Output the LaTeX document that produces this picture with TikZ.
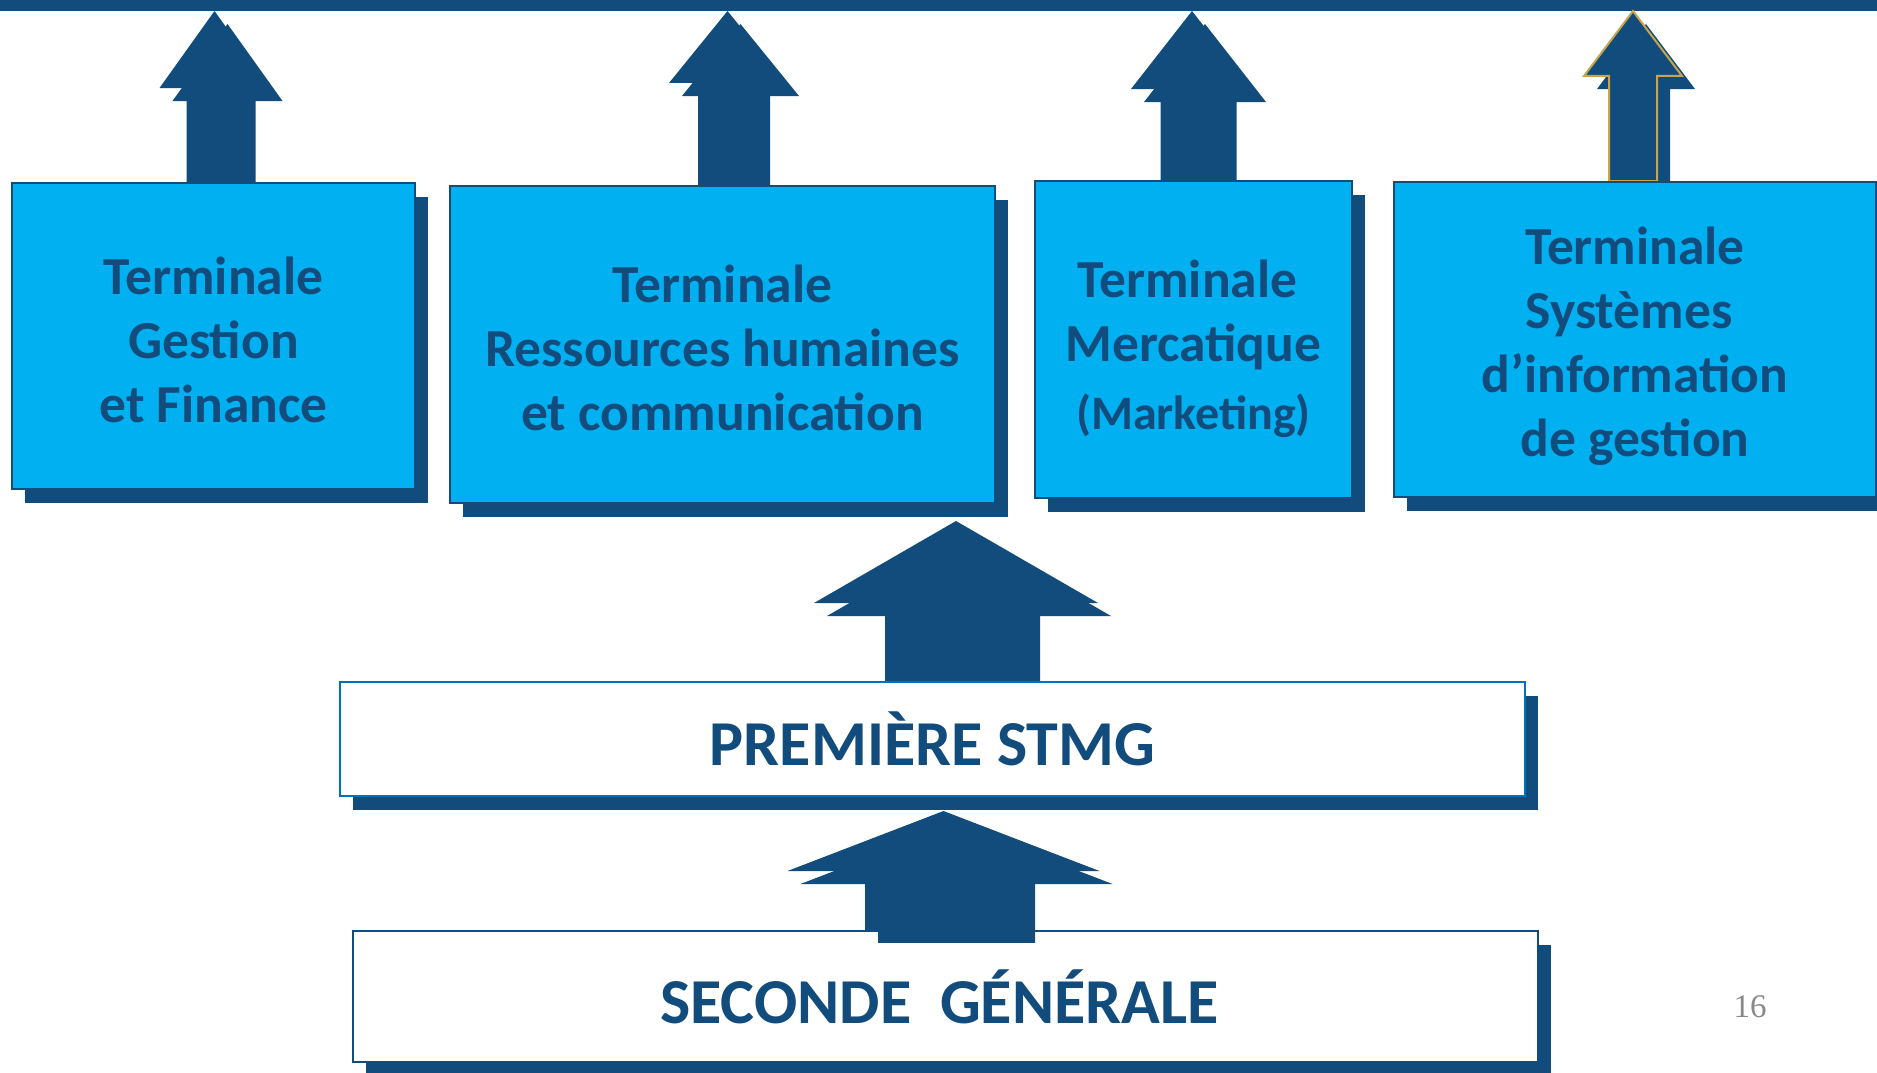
\documentclass[tikz,border=0pt]{standalone}
\usepackage{fontspec}
\setmainfont{Carlito}
\newfontfamily\pagefont{Liberation Serif}
\usetikzlibrary{calc}
\usetikzlibrary{shadows}
\usetikzlibrary{backgrounds}

\definecolor{dkblue}{RGB}{17,76,125}
\definecolor{cyanfill}{RGB}{0,176,240}
\definecolor{primeline}{RGB}{0,112,192}
\definecolor{goldline}{RGB}{200,165,75}
\definecolor{pagegray}{RGB}{137,137,137}

\tikzset{
  boxshadow/.style={drop shadow={shadow xshift=13pt, shadow yshift=-14pt, fill=dkblue, opacity=1}},
  termbox/.style={draw=dkblue, line width=2pt, fill=cyanfill, inner sep=0pt, boxshadow},
  termtext/.style={text=dkblue, align=center, inner sep=0pt,
    font=\bfseries\fontsize{53.5}{64}\selectfont},
  levelbox/.style={draw=#1, line width=2.5pt, fill=white, inner sep=0pt, boxshadow},
  leveltext/.style={text=dkblue, inner sep=0pt, font=\bfseries\fontsize{64}{72}\selectfont},
}

% #1 front style, #2 base, #3 tip, #4 shaft half width, #5 head half width, #6 head height
\newcommand{\upArrow}[6][]{%
  \fill[dkblue, transform canvas={shift={(13pt,-13pt)}}] let \p1=(#2), \p2=(#3) in
    (\x1-#4pt,\y1) -- (\x1-#4pt,\y2-#6pt) -- (\x1-#5pt,\y2-#6pt) -- (\x1,\y2)
    -- (\x1+#5pt,\y2-#6pt) -- (\x1+#4pt,\y2-#6pt) -- (\x1+#4pt,\y1) -- cycle;
  \fill[dkblue, #1] let \p1=(#2), \p2=(#3) in
    (\x1-#4pt,\y1) -- (\x1-#4pt,\y2-#6pt) -- (\x1-#5pt,\y2-#6pt) -- (\x1,\y2)
    -- (\x1+#5pt,\y2-#6pt) -- (\x1+#4pt,\y2-#6pt) -- (\x1+#4pt,\y1) -- cycle;
}

\begin{document}
\begin{tikzpicture}[x=1pt, y=-1pt]
  \useasboundingbox (0,0) rectangle (1877,1073);

  % the four terminales
  \node[termbox, minimum width=403pt, minimum height=306pt] (gf) at (213.5,336) {};
  \node[termbox, minimum width=545pt, minimum height=317pt] (rhc) at (722.5,344.5) {};
  \node[termbox, minimum width=317pt, minimum height=317pt] (merc) at (1193.5,339.5) {};
  \node[termbox, minimum width=482pt, minimum height=315pt] (sig) at (1635,339.5) {};

  \node[termtext] (gftext) at ($(gf)+(0,3.6)$) {Terminale\\Gestion\\et Finance};
  \node[termtext] (rhctext) at ($(rhc)+(0,3.6)$) {Terminale\\Ressources humaines\\et communication};
  \node[termtext] (merctext) at ($(merc)+(0,9.5)$)
    {Terminale\ \mbox{}\\Mercatique\\[4pt]{\fontsize{48}{64}\selectfont(Marketing)}};
  \node[termtext] (sigtext) at ($(sig)+(0,7)$)
    {Terminale\\Systèmes\ \mbox{}\\d’information\\de gestion};

  % premiere and seconde
  \node[levelbox=primeline, minimum width=1185pt, minimum height=114pt] (prem) at (932.5,739) {};
  \node[levelbox=dkblue, minimum width=1185pt, minimum height=131pt] (sec) at (945.5,996.5) {};
  \node[leveltext] (premtext) at (prem) {PREMIÈRE STMG};
  \node[leveltext] (sectext) at ($(sec)+(-6,0)$) {SECONDE\ \ GÉNÉRALE};

  \coordinate (bar) at (0,11);
  \coordinate (tipprem) at (956,521);
  \coordinate (tipsec) at (943.5,811);

  \begin{pgfonlayer}{background}
    \fill[dkblue] (0,0) rectangle (1877,11);
    \upArrow{214.5,0 |- gf.north}{bar}{28}{55}{77}
    \upArrow{727.5,0 |- rhc.north}{bar}{29.5}{58.5}{72}
    \upArrow{1192,0 |- merc.north}{bar}{31.5}{61}{78}
    \upArrow[draw=goldline, line width=2pt]{1633,0 |- sig.north}{bar}{24}{49}{65}
    \upArrow{956,0 |- prem.north}{tipprem}{71}{142}{82}
  \end{pgfonlayer}
  \upArrow{943.5,0 |- sec.north}{tipsec}{78.5}{156}{60}

  \node[font=\pagefont\fontsize{33}{40}\selectfont, text=pagegray] (page) at (1750,1007) {16};
\end{tikzpicture}
\end{document}
